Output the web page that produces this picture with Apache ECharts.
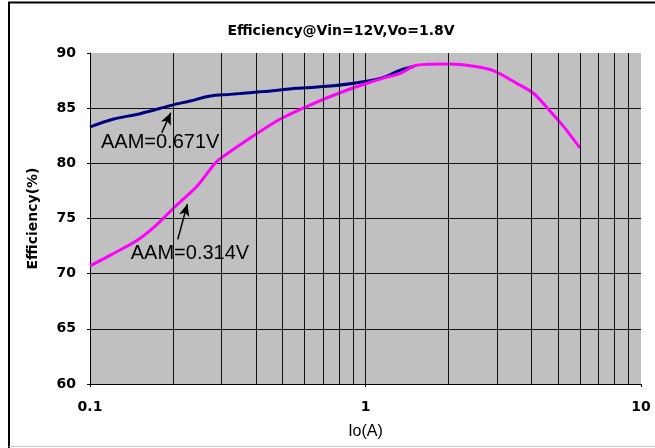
<!DOCTYPE html>
<html>
<head>
<meta charset="utf-8">
<script src="https://cdn.jsdelivr.net/npm/echarts@6/dist/echarts.min.js"></script>
<style>
  html, body { margin: 0; padding: 0; background: #ffffff; }
  #chart { width: 655px; height: 448px; }
</style>
</head>
<body>
<div id="chart"></div>
<script>
// ---- data ----
const titleText = 'Efficiency@Vin=12V,Vo=1.8V';
const xAxisName = 'Io(A)';
const yAxisName = 'Efficiency(%)';

const navyName = 'AAM=0.671V';
const navyX = [0.1, 0.121, 0.152, 0.2, 0.231, 0.273, 0.322, 0.425, 0.563, 0.745, 0.98, 1.15, 1.34, 1.5];
const navyY = [83.3, 84.0, 84.5, 85.3, 85.65, 86.1, 86.25, 86.5, 86.8, 87.0, 87.4, 87.75, 88.45, 88.8];

const magentaName = 'AAM=0.314V';
const magentaX = [0.1, 0.121, 0.148, 0.174, 0.206, 0.244, 0.281, 0.296, 0.371, 0.489, 0.644, 0.85, 1.0, 1.15, 1.34, 1.53, 2.02, 2.47, 2.91, 3.54, 4.07, 4.69, 5.25, 6.0];
const magentaY = [70.7, 71.8, 73.0, 74.4, 76.2, 77.9, 79.85, 80.4, 82.1, 84.0, 85.4, 86.6, 87.2, 87.7, 88.15, 88.9, 89.0, 88.8, 88.4, 87.25, 86.35, 84.7, 83.3, 81.4];

// minor log gridlines (Io values)
const minorGridX = [0.2, 0.3, 0.4, 0.5, 0.6, 0.7, 0.8, 0.9, 2, 3, 4, 5, 6, 7, 8, 9];

// annotations (data coordinates)
const navyArrow = [[0.1822, 82.78], [0.1965, 84.59]];
const magentaArrow = [[0.2083, 73.11], [0.2256, 76.31]];
const navyLabelAt = [0.1096, 81.93];
const magentaLabelAt = [0.1406, 71.81];

// ---- chart ----
const chart = echarts.init(document.getElementById('chart'), null, { renderer: 'canvas' });

const zip = (xs, ys) => xs.map((x, i) => [x, ys[i]]);
const tickFont = { fontFamily: 'DejaVu Sans', fontWeight: 'bold', fontSize: 14, color: '#000' };

function arrowLine(pts) {
  return [{ coord: pts[0], symbol: 'none' }, { coord: pts[1], symbol: 'arrow', symbolSize: [8, 12] }];
}

const option = {
  animation: false,
  backgroundColor: '#ffffff',
  title: {
    text: titleText,
    left: 336,
    top: 19,
    textAlign: 'center',
    textStyle: { fontFamily: 'DejaVu Sans', fontWeight: 'bold', fontSize: 14, color: '#000' }
  },
  grid: { left: 90, right: 14, top: 53, bottom: 64, show: true, backgroundColor: '#c0c0c0', borderWidth: 0 },
  xAxis: {
    type: 'log',
    logBase: 10,
    min: 0.1,
    max: 10,
    name: xAxisName,
    nameLocation: 'middle',
    nameGap: 40,
    nameTextStyle: { fontFamily: 'Liberation Sans', fontSize: 16, color: '#000' },
    axisLine: { show: true, onZero: false, lineStyle: { color: '#000', width: 1 } },
    axisTick: { show: true, inside: false, length: 3, lineStyle: { color: '#000' } },
    axisLabel: Object.assign({ margin: 16, formatter: v => String(v) }, tickFont),
    splitLine: { show: true, showMaxLine: false, lineStyle: { color: '#111', width: 1 } }
  },
  yAxis: {
    type: 'value',
    min: 60,
    max: 90,
    interval: 5,
    name: yAxisName,
    nameLocation: 'middle',
    nameGap: 50,
    nameTextStyle: { fontFamily: 'DejaVu Sans', fontWeight: 'bold', fontSize: 14, color: '#000' },
    axisLine: { show: true, lineStyle: { color: '#000', width: 1 } },
    axisTick: { show: true, inside: false, length: 3, lineStyle: { color: '#000' } },
    axisLabel: Object.assign({ margin: 14 }, tickFont),
    splitLine: { show: true, showMaxLine: false, lineStyle: { color: '#111', width: 1 } }
  },
  series: [
    {
      type: 'line',
      name: 'grid',
      data: [],
      z: 1,
      silent: true,
      markLine: {
        silent: true,
        symbol: 'none',
        animation: false,
        label: { show: false },
        lineStyle: { color: '#111', width: 1, type: 'solid' },
        data: minorGridX.map(v => ({ xAxis: v }))
      }
    },
    {
      type: 'line',
      name: navyName,
      data: zip(navyX, navyY),
      smooth: 0.3,
      showSymbol: false,
      z: 3,
      lineStyle: { color: '#000080', width: 3 },
      itemStyle: { color: '#000080' },
      markLine: {
        silent: true,
        animation: false,
        label: { show: false },
        lineStyle: { color: '#000', width: 1.5, type: 'solid' },
        data: [arrowLine(navyArrow)]
      },
      markPoint: {
        silent: true,
        symbol: 'circle',
        symbolSize: 0,
        data: [{ coord: navyLabelAt, value: navyName }],
        label: {
          show: true, position: 'inside', align: 'left', verticalAlign: 'middle',
          formatter: navyName, fontFamily: 'Liberation Sans', fontSize: 20, color: '#000'
        }
      }
    },
    {
      type: 'line',
      name: magentaName,
      data: zip(magentaX, magentaY),
      smooth: 0.3,
      showSymbol: false,
      z: 4,
      lineStyle: { color: '#ff00ff', width: 3 },
      itemStyle: { color: '#ff00ff' },
      markLine: {
        silent: true,
        animation: false,
        label: { show: false },
        lineStyle: { color: '#000', width: 1.5, type: 'solid' },
        data: [arrowLine(magentaArrow)]
      },
      markPoint: {
        silent: true,
        symbol: 'circle',
        symbolSize: 0,
        data: [{ coord: magentaLabelAt, value: magentaName }],
        label: {
          show: true, position: 'inside', align: 'left', verticalAlign: 'middle',
          formatter: magentaName, fontFamily: 'Liberation Sans', fontSize: 20, color: '#000'
        }
      }
    }
  ],
  graphic: [
    { type: 'line', shape: { x1: 9, y1: 2, x2: 9, y2: 448 }, style: { stroke: '#000', lineWidth: 2 }, silent: true },
    { type: 'line', shape: { x1: 8, y1: 2.5, x2: 655, y2: 2.5 }, style: { stroke: '#000', lineWidth: 2 }, silent: true },
    { type: 'line', shape: { x1: 9, y1: 446.5, x2: 655, y2: 446.5 }, style: { stroke: '#c8c8c8', lineWidth: 1 }, silent: true }
  ]
};

chart.setOption(option);
</script>
</body>
</html>
